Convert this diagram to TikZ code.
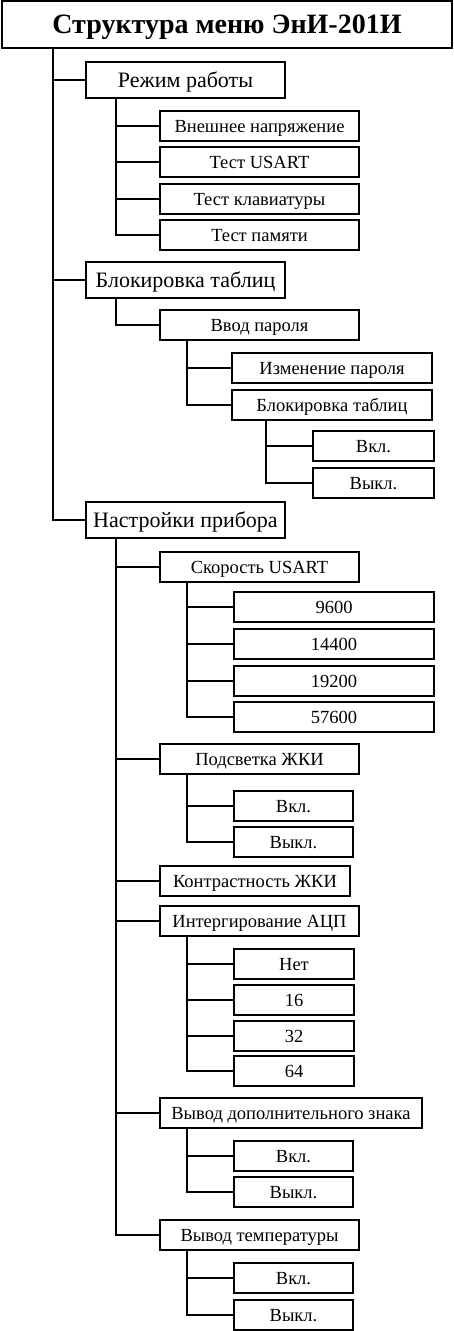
\documentclass[tikz,border=0pt]{standalone}
\usepackage{fontspec}
\setmainfont{Liberation Serif}
\usetikzlibrary{positioning,calc}

\begin{document}
\begin{tikzpicture}[x=1pt, y=-1pt,
    box/.style={draw, line width=1.8pt, inner sep=0pt, text depth=0pt, minimum height=30pt, font=\fontsize{18.5}{22}\selectfont},
    top/.style={box, minimum height=36pt, minimum width=199pt, font=\fontsize{22}{26}\selectfont},
    link/.style={line width=1.2pt}]
    \useasboundingbox (0,0) rectangle (454,1331);
    \coordinate (t0) at (53,0);
    \coordinate (t1) at (116,0);
    \coordinate (t2) at (187,0);
    \coordinate (t3) at (266,0);

    \node[box, minimum width=450pt, minimum height=47pt, font=\bfseries\fontsize{28}{32}\selectfont] (title) at (227,24.5) {Структура меню ЭнИ-201И};

    \node[top] (rezh) at (185.5,80) {Режим работы};
    \node[top] (blok) at (185.5,280) {Блокировка таблиц};
    \node[top] (nastr) at (185.5,520) {Настройки прибора};
    \foreach \c in {rezh,blok,nastr}
        \draw[link] (title.south -| t0) |- (\c.west);

    % режим работы
    \foreach \c/\y/\t in {vnesh/126/Внешнее напряжение, usart/162/Тест USART, klav/199/Тест клавиатуры, pam/235/Тест памяти} {
        \node[box, minimum width=199pt] (\c) at (259.5,\y) {\t};
        \draw[link] (rezh.south -| t1) |- (\c.west);
    }

    % блокировка таблиц
    \node[box, minimum width=199pt] (vvod) at (259.5,325) {Ввод пароля};
    \draw[link] (blok.south -| t1) |- (vvod.west);
    \node[box, minimum width=200pt] (izm) at (332,368) {Изменение пароля};
    \node[box, minimum width=200pt] (blok2) at (332,405) {Блокировка таблиц};
    \foreach \c in {izm,blok2}
        \draw[link] (vvod.south -| t2) |- (\c.west);
    \node[box, minimum width=121pt] (vkl1) at (373.5,446) {Вкл.};
    \node[box, minimum width=121pt] (vykl1) at (373.5,483) {Выкл.};
    \foreach \c in {vkl1,vykl1}
        \draw[link] (blok2.south -| t3) |- (\c.west);

    % настройки прибора
    \node[box, minimum width=199pt] (skor) at (259.5,567) {Скорость USART};
    \node[box, minimum width=199pt] (podsv) at (259.5,759) {Подсветка ЖКИ};
    \node[box, minimum width=190pt] (kontr) at (255,881) {Контрастность ЖКИ};
    \node[box, minimum width=199pt] (integ) at (259.5,921) {Интергирование АЦП};
    \node[box, minimum width=262pt] (znak) at (291,1113) {Вывод дополнительного знака};
    \node[box, minimum width=199pt] (temp) at (259.5,1235) {Вывод температуры};
    \foreach \c in {skor,podsv,kontr,integ,znak,temp}
        \draw[link] (nastr.south -| t1) |- (\c.west);

    \foreach \c/\y/\t in {s1/607/9600, s2/644/14400, s3/681/19200, s4/717/57600} {
        \node[box, minimum width=200pt] (\c) at (334,\y) {\t};
        \draw[link] (skor.south -| t2) |- (\c.west);
    }
    \foreach \c/\y/\t in {p1/806/Вкл., p2/842/Выкл.} {
        \node[box, minimum width=119pt] (\c) at (293.5,\y) {\t};
        \draw[link] (podsv.south -| t2) |- (\c.west);
    }
    \foreach \c/\y/\t in {i1/964/Нет, i2/1000/16, i3/1036/32, i4/1071/64} {
        \node[box, minimum width=120pt] (\c) at (294,\y) {\t};
        \draw[link] (integ.south -| t2) |- (\c.west);
    }
    \foreach \c/\y/\t in {z1/1156/Вкл., z2/1192/Выкл.} {
        \node[box, minimum width=119pt] (\c) at (293.5,\y) {\t};
        \draw[link] (znak.south -| t2) |- (\c.west);
    }
    \foreach \c/\y/\t in {v1/1278/Вкл., v2/1315/Выкл.} {
        \node[box, minimum width=119pt] (\c) at (293.5,\y) {\t};
        \draw[link] (temp.south -| t2) |- (\c.west);
    }
\end{tikzpicture}
\end{document}
